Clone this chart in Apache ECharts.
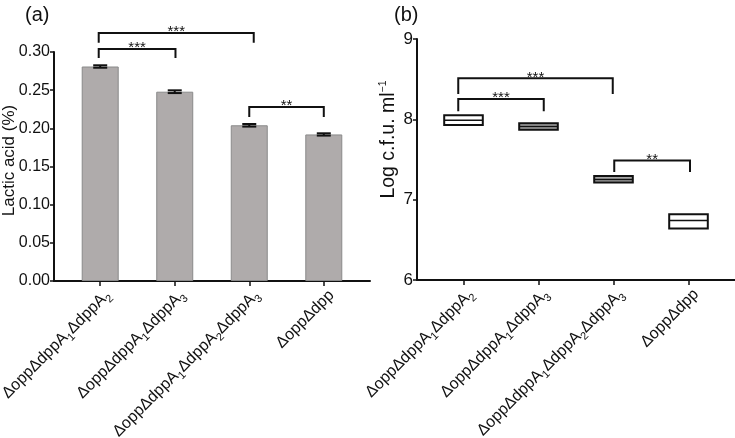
<!DOCTYPE html>
<html>
<head>
<meta charset="utf-8">
<script src="https://cdn.jsdelivr.net/npm/echarts@6.0.0/dist/echarts.min.js"></script>
<style>
  html, body { margin: 0; padding: 0; background: #fff; }
  #chart { width: 735px; height: 438px; }
</style>
</head>
<body>
<div id="chart"></div>
<script>
// strains, "_n" marks a subscript
const strains = ['ΔoppΔdppA_1ΔdppA_2', 'ΔoppΔdppA_1ΔdppA_3', 'ΔoppΔdppA_1ΔdppA_2ΔdppA_3', 'ΔoppΔdpp'];
// x slot of each strain on the value axis (axis runs 0 .. 4.24)
const slots = [0.62, 1.62, 2.62, 3.62];

// (a) lactic acid, mean and error
const lacticMean = [0.281, 0.248, 0.204, 0.192];
const lacticErr = [0.0016, 0.0018, 0.0017, 0.0015];
const lacticTicks = [0, 0.05, 0.10, 0.15, 0.20, 0.25, 0.30];

// (b) log cfu per ml: low, mean, high
const cfuLow = [7.93, 7.87, 7.215, 6.64];
const cfuMean = [7.99, 7.91, 7.25, 6.74];
const cfuHigh = [8.05, 7.95, 7.295, 6.82];
const cfuTicks = [6, 7, 8, 9];

// significance brackets: strain a -> strain b, nudge of each leg, bar height, leg end, stars
const sigA = [
  { a: 0, b: 2, da: -0.02, db: 0.06, top: 0.325, leg: 0.312, stars: '***' },
  { a: 0, b: 1, da: -0.02, db: 0.01, top: 0.304, leg: 0.292, stars: '***' },
  { a: 2, b: 3, da: 0, db: 0, top: 0.228, leg: 0.215, stars: '**' }
];
const sigB = [
  { a: 0, b: 2, da: -0.07, db: -0.01, top: 8.51, leg: 8.316, stars: '***' },
  { a: 0, b: 1, da: -0.07, db: 0.07, top: 8.254, leg: 8.10, stars: '***' },
  { a: 2, b: 3, da: 0.01, db: 0.02, top: 7.486, leg: 7.345, stars: '**' }
];

const boxFill = ['#ffffff', '#a8a8a8', '#a8a8a8', '#ffffff'];
const FONT = '"Liberation Sans", Arial, Helvetica, sans-serif';
const INK = '#111';

function richName(s) {
  return s.split(/(_\d)/).filter(Boolean).map(p =>
    p[0] === '_' ? '{s|' + p.slice(1) + '}' : '{n|' + p + '}').join('');
}

const labelRich = {
  n: { fontSize: 16, fontFamily: FONT, color: INK, lineHeight: 22 },
  s: { fontSize: 11, fontFamily: FONT, color: INK, lineHeight: 22, verticalAlign: 'bottom' }
};

function xAxisFor(gi) {
  return {
    gridIndex: gi, type: 'value', min: 0, max: 4.24,
    splitLine: { show: false },
    axisLine: { show: true, lineStyle: { color: INK, width: 2 } },
    axisTick: { show: true, customValues: slots, length: 5, lineStyle: { color: INK, width: 1.5 } },
    axisLabel: {
      customValues: slots, rotate: 45, margin: 4, interval: 0,
      align: 'right', verticalAlign: 'top',
      formatter: v => richName(strains[slots.indexOf(v)] || strains[Math.round(v - 0.62)]),
      rich: labelRich
    }
  };
}

function yAxisFor(gi, min, max, interval, ticks, fmt, name, nameStyle) {
  return {
    gridIndex: gi, type: 'value', min, max, interval,
    name, nameLocation: 'middle', nameGap: gi === 0 ? 35 : 17,
    nameMoveOverlap: gi !== 0,
    nameTextStyle: nameStyle,
    splitLine: { show: false },
    axisLine: { show: true, lineStyle: { color: INK, width: 2 } },
    axisTick: { show: true, length: 4, lineStyle: { color: INK, width: 1.5 } },
    axisLabel: { fontSize: gi === 0 ? 16 : 17, fontFamily: FONT, color: INK, margin: 4,
      customValues: ticks, formatter: fmt }
  };
}

function bracketSeries(gi, sig) {
  return {
    type: 'custom', xAxisIndex: gi, yAxisIndex: gi, silent: true, clip: false, z: 5,
    encode: { x: [0, 1], y: [2, 3] },
    data: sig.map(b => [slots[b.a] + b.da, slots[b.b] + b.db, b.top, b.leg]),
    renderItem(params, api) {
      const x1 = api.value(0), x2 = api.value(1), t = api.value(2), l = api.value(3);
      const a = api.coord([x1, l]), b = api.coord([x1, t]), c = api.coord([x2, t]), d = api.coord([x2, l]);
      return {
        type: 'group',
        children: [
          { type: 'polyline', shape: { points: [a, b, c, d] },
            style: { stroke: INK, lineWidth: 2, fill: null } },
          { type: 'text', x: (b[0] + c[0]) / 2, y: b[1] - 1,
            style: { text: sig[params.dataIndex].stars, fontSize: 15, fontFamily: FONT,
              fill: INK, align: 'center', verticalAlign: 'middle' } }
        ]
      };
    }
  };
}

const chart = echarts.init(document.getElementById('chart'), null, { renderer: 'canvas' });

const option = {
  animation: false,
  backgroundColor: '#fff',
  textStyle: { fontFamily: FONT },
  title: [
    { text: '(a)', left: 20, top: 0, textStyle: { fontSize: 20, fontWeight: 'normal', fontFamily: FONT, color: INK } },
    { text: '(b)', left: 389, top: 0, textStyle: { fontSize: 20, fontWeight: 'normal', fontFamily: FONT, color: INK } }
  ],
  grid: [
    { left: 54, top: 52, width: 316, height: 229, outerBoundsMode: 'none', containLabel: false },
    { left: 417, top: 39, width: 318, height: 241, outerBoundsMode: 'none', containLabel: false }
  ],
  xAxis: [xAxisFor(0), xAxisFor(1)],
  yAxis: [
    yAxisFor(0, 0, 0.30, 0.05, lacticTicks, v => v.toFixed(2), '{n|Lactic acid (%)}',
      { fontFamily: FONT, color: INK, padding: [0, 0, 0, 12],
        rich: { n: { fontSize: 17, fontFamily: FONT, color: INK, lineHeight: 20 } } }),
    yAxisFor(1, 6, 9, 1, cfuTicks, v => String(v), '{n|Log c.f.u. ml}{p|−1}',
      { fontFamily: FONT, color: INK, padding: [0, 0, 0, 40],
        rich: {
          n: { fontSize: 19.5, fontFamily: FONT, color: INK, lineHeight: 22 },
          p: { fontSize: 10.5, fontFamily: FONT, color: INK, lineHeight: 22, verticalAlign: 'top' }
        } })
  ],
  series: [
    {
      type: 'bar', xAxisIndex: 0, yAxisIndex: 0, barWidth: 37,
      data: slots.map((p, i) => [p, lacticMean[i]]),
      itemStyle: { color: '#afabab', borderColor: '#8a8a8a', borderWidth: 1 }
    },
    {
      type: 'custom', xAxisIndex: 0, yAxisIndex: 0, z: 4,
      encode: { x: 0, y: 1 },
      data: slots.map((p, i) => [p, lacticMean[i], lacticErr[i]]),
      renderItem(params, api) {
        const x = api.value(0), m = api.value(1), e = api.value(2);
        const hi = api.coord([x, m + e]), lo = api.coord([x, m - e]);
        const hw = 7, st = { stroke: INK, lineWidth: 2 };
        return {
          type: 'group',
          children: [
            { type: 'line', shape: { x1: hi[0], y1: hi[1], x2: lo[0], y2: lo[1] }, style: st },
            { type: 'line', shape: { x1: hi[0] - hw, y1: hi[1], x2: hi[0] + hw, y2: hi[1] }, style: st },
            { type: 'line', shape: { x1: lo[0] - hw, y1: lo[1], x2: lo[0] + hw, y2: lo[1] }, style: st }
          ]
        };
      }
    },
    {
      type: 'custom', xAxisIndex: 1, yAxisIndex: 1, z: 4,
      encode: { x: 0, y: [1, 2, 3] },
      data: slots.map((p, i) => [p, cfuLow[i], cfuMean[i], cfuHigh[i]]),
      renderItem(params, api) {
        const x = api.value(0);
        const lo = api.coord([x, api.value(1)]), mid = api.coord([x, api.value(2)]), hi = api.coord([x, api.value(3)]);
        const hw = 19.3;
        return {
          type: 'group',
          children: [
            { type: 'rect', shape: { x: lo[0] - hw, y: hi[1], width: hw * 2, height: lo[1] - hi[1] },
              style: { fill: boxFill[params.dataIndex], stroke: INK, lineWidth: 2 } },
            { type: 'line', shape: { x1: mid[0] - hw, y1: mid[1], x2: mid[0] + hw, y2: mid[1] },
              style: { stroke: INK, lineWidth: 1.5 } }
          ]
        };
      }
    },
    bracketSeries(0, sigA),
    bracketSeries(1, sigB)
  ]
};

chart.setOption(option);
</script>
</body>
</html>
